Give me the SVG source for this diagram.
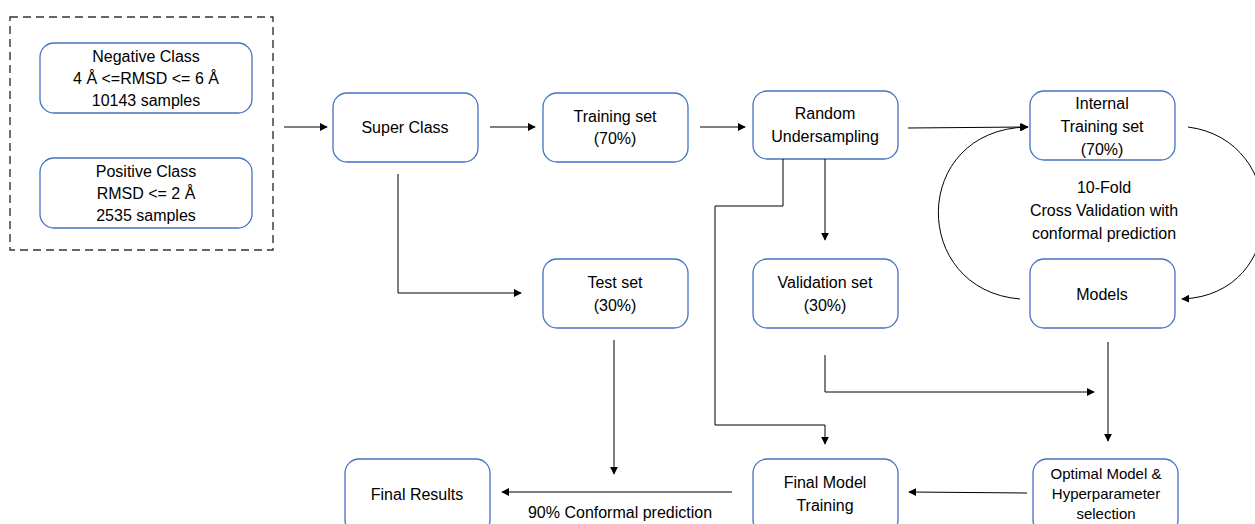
<svg xmlns="http://www.w3.org/2000/svg" width="1255" height="524" viewBox="0 0 1255 524">
<style>
.box{fill:#fff;stroke:#4472C4;stroke-width:1.3}
.t{font-family:"Liberation Sans",Arial,sans-serif;font-size:16px;fill:#000;text-anchor:middle}
.s{font-size:15px}
.c{fill:none;stroke:#000;stroke-width:1}
</style>
<defs>
<marker id="a" viewBox="0 0 10 10" refX="9" refY="5" markerWidth="8" markerHeight="8" markerUnits="userSpaceOnUse" orient="auto">
<path d="M0,0 L10,5 L0,10 z" fill="#000"/>
</marker>
</defs>
<rect width="1255" height="524" fill="#fff"/>
<rect x="10" y="17" width="263" height="233" fill="none" stroke="#333" stroke-width="1.4" stroke-dasharray="8,5"/>
<g id="negative"><rect class="box" x="40" y="43" width="212" height="70" rx="14"/>
<text class="t" x="146" y="62">Negative Class</text><text class="t" x="146" y="84">4 Å &lt;=RMSD &lt;= 6 Å</text><text class="t" x="146" y="106">10143 samples</text></g>
<g id="positive"><rect class="box" x="40" y="158" width="212" height="70" rx="14"/>
<text class="t" x="146" y="177">Positive Class</text><text class="t" x="146" y="199">RMSD &lt;= 2 Å</text><text class="t" x="146" y="221">2535 samples</text></g>
<g id="superclass"><rect class="box" x="333" y="93" width="145" height="69" rx="14"/>
<text class="t" x="405" y="133">Super Class</text></g>
<g id="training"><rect class="box" x="543" y="93" width="145" height="69" rx="14"/>
<text class="t" x="615" y="122">Training set</text><text class="t" x="615" y="144">(70%)</text></g>
<g id="undersampling"><rect class="box" x="753" y="91" width="145" height="68" rx="14"/>
<text class="t" x="825" y="119">Random</text><text class="t" x="825" y="142">Undersampling</text></g>
<g id="internal"><rect class="box" x="1030" y="91" width="145" height="69" rx="14"/>
<text class="t" x="1102" y="109">Internal</text><text class="t" x="1102" y="132">Training set</text><text class="t" x="1102" y="155">(70%)</text></g>
<g id="models"><rect class="box" x="1030" y="259" width="145" height="69" rx="14"/>
<text class="t" x="1102" y="300">Models</text></g>
<g id="validation"><rect class="box" x="753" y="259" width="145" height="69" rx="14"/>
<text class="t" x="825" y="288">Validation set</text><text class="t" x="825" y="311">(30%)</text></g>
<g id="test"><rect class="box" x="543" y="259" width="145" height="69" rx="14"/>
<text class="t" x="615" y="288">Test set</text><text class="t" x="615" y="311">(30%)</text></g>
<g id="finalmodel"><rect class="box" x="753" y="459" width="145" height="75" rx="14"/>
<text class="t" x="825" y="488">Final Model</text><text class="t" x="825" y="511">Training</text></g>
<g id="optimal"><rect class="box" x="1033" y="459" width="145" height="75" rx="14"/>
<text class="t s" x="1106" y="479">Optimal Model &amp;</text><text class="t s" x="1106" y="499">Hyperparameter</text><text class="t s" x="1106" y="519">selection</text></g>
<g id="results"><rect class="box" x="345" y="459" width="145" height="75" rx="14"/>
<text class="t" x="417" y="500">Final Results</text></g>
<text class="t" x="620" y="518">90% Conformal prediction</text>
<text class="t" x="1104" y="193">10-Fold</text>
<text class="t" x="1104" y="216">Cross Validation with</text>
<text class="t" x="1104" y="239">conformal prediction</text>
<g id="connectors">
<path class="c" d="M284,127 H327" marker-end="url(#a)"/>
<path class="c" d="M490,127 H535" marker-end="url(#a)"/>
<path class="c" d="M700,127 H745" marker-end="url(#a)"/>
<path class="c" d="M908,128 L1028,127" marker-end="url(#a)"/>
<path class="c" d="M1020,299 C910,290 910,130 1027,127" marker-end="url(#a)"/>
<path class="c" d="M1188,127 C1290,140 1290,295 1182,299" marker-end="url(#a)"/>
<path class="c" d="M825,159 V240" marker-end="url(#a)"/>
<path class="c" d="M398,174 V293 H521" marker-end="url(#a)"/>
<path class="c" d="M783,159 V206 H715 V425 H825 V444" marker-end="url(#a)"/>
<path class="c" d="M825,355 V392 H1094" marker-end="url(#a)"/>
<path class="c" d="M1108,342 V441" marker-end="url(#a)"/>
<path class="c" d="M614,340 V474" marker-end="url(#a)"/>
<path class="c" d="M1027,493 L909,492" marker-end="url(#a)"/>
<path class="c" d="M732,492 L502,492" marker-end="url(#a)"/>
</g>
</svg>
